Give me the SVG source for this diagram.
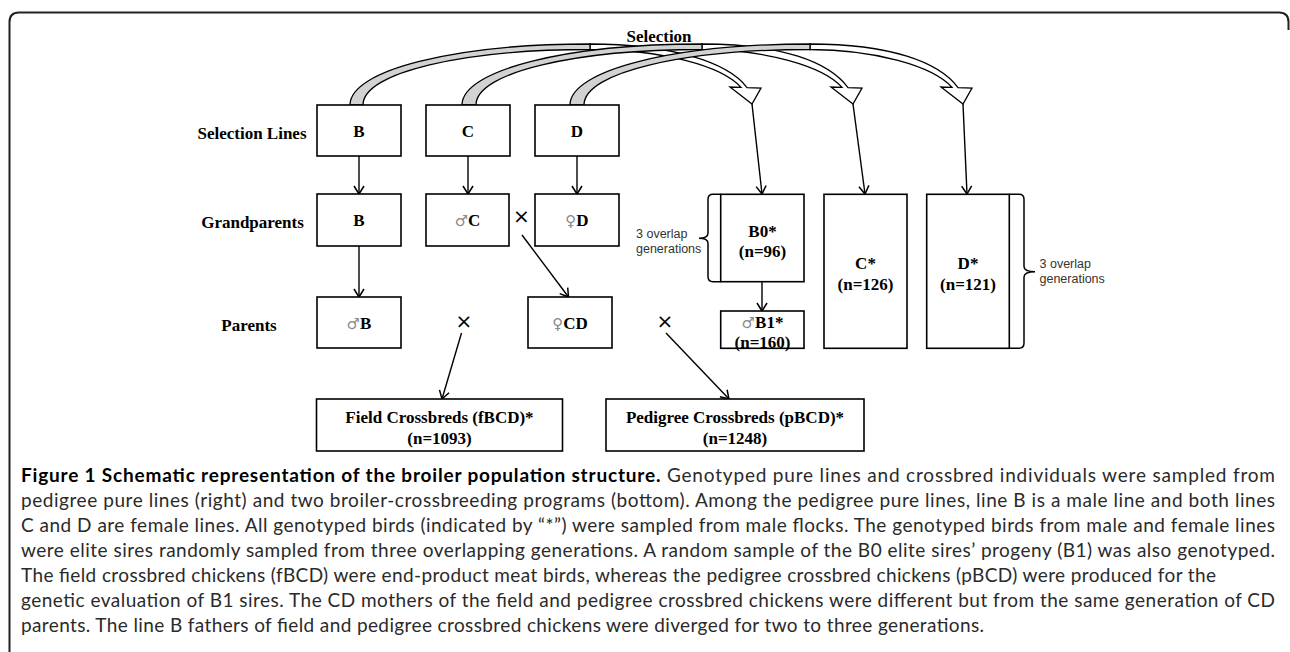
<svg xmlns="http://www.w3.org/2000/svg" width="1290" height="652" viewBox="0 0 1290 652">
<defs>
<marker id="ah" markerUnits="userSpaceOnUse" markerWidth="16" markerHeight="16" viewBox="-12 -8 16 16" refX="0" refY="0" orient="auto"><path d="M-8,-5 L0,0 L-8,5" fill="none" stroke="#000" stroke-width="1.5"/></marker>
</defs>
<style>
.box{fill:#fff;stroke:#000;stroke-width:1.6}
.t{font-family:"Liberation Serif","Times New Roman",serif;font-weight:bold;font-size:17px;fill:#000;text-anchor:middle}
.sym{font-family:"DejaVu Sans",sans-serif;font-weight:normal;fill:#8a8a8a;font-size:15px}
.small{font-family:"Liberation Sans",Arial,sans-serif;font-size:12.5px;fill:#333}
.x{font-family:"DejaVu Sans",sans-serif;font-size:20px;text-anchor:middle;fill:#000}
.ln{fill:none;stroke:#000;stroke-width:1.4;marker-end:url(#ah)}
.grey{fill:#d2d2d2;stroke:#000;stroke-width:1.3}
.hol{fill:#fff;stroke:#000;stroke-width:1.3}
.brace{fill:none;stroke:#000;stroke-width:1.5}
.cap{font-family:Lato,"Open Sans",sans-serif;font-size:19px;fill:#2a2a2a}
.capb{font-weight:bold;fill:#000}
</style>
<rect width="1290" height="652" fill="#fff"/>
<path d="M9.5,652 V22 Q9.5,12.5 19,12.5 H1279 Q1288.5,12.5 1288.5,22 V30" fill="none" stroke="#222" stroke-width="2"/>

<g id="connectors">
  <path class="hol" d="M590,44 C670,44 728,62 747,87.6 L761,88 L752,104 L730,87 L741,87.4 C722,66 662,49.5 590,49.5 Z"/>
  <path class="grey" d="M350,105 C350,70 455,44 590,44 L590,49.5 C465,49.5 363,72 363,105 Z"/>
  <path class="hol" d="M702,44 C782,44 829,62 848,87.6 L862,88 L853,104 L831,87 L842,87.4 C823,66 764,49.5 702,49.5 Z"/>
  <path class="grey" d="M462,105 C462,70 567,44 702,44 L702,49.5 C577,49.5 476,72 476,105 Z"/>
  <path class="hol" d="M810,44 C890,44 939,62 958,87.6 L972,88 L963,104 L941,87 L952,87.4 C933,66 874,49.5 810,49.5 Z"/>
  <path class="grey" d="M570,105 C570,70 675,44 810,44 L810,49.5 C685,49.5 584,72 584,105 Z"/>
  <line class="ln" x1="752" y1="104" x2="762" y2="194"/>
  <line class="ln" x1="853" y1="104" x2="865" y2="194"/>
  <line class="ln" x1="963" y1="104" x2="967" y2="194"/>
  <line class="ln" x1="359" y1="156" x2="359" y2="194"/>
  <line class="ln" x1="468" y1="156" x2="468" y2="194"/>
  <line class="ln" x1="577" y1="156" x2="577" y2="194"/>
  <line class="ln" x1="359" y1="246" x2="359" y2="297"/>
  <line class="ln" x1="522" y1="235" x2="568.5" y2="297"/>
  <line class="ln" x1="461.5" y1="333" x2="442" y2="399"/>
  <line class="ln" x1="666" y1="333" x2="729" y2="399"/>
  <line class="ln" x1="762" y1="282" x2="762" y2="311"/>
  <text class="x" x="521.5" y="223">×</text>
  <text class="x" x="464" y="328">×</text>
  <text class="x" x="665" y="328">×</text>
</g>

<g id="labels">
  <text class="t" x="659" y="41.5">Selection</text>
  <text class="t" x="252" y="139">Selection Lines</text>
  <text class="t" x="252.5" y="227.5">Grandparents</text>
  <text class="t" x="249" y="330.5">Parents</text>
</g>

<g id="sel-B"><rect class="box" x="317" y="105" width="84" height="51"/><text class="t" x="359" y="136.5">B</text></g>
<g id="sel-C"><rect class="box" x="426" y="105" width="84" height="51"/><text class="t" x="468" y="136.5">C</text></g>
<g id="sel-D"><rect class="box" x="535" y="105" width="84" height="51"/><text class="t" x="577" y="136.5">D</text></g>

<g id="gp-B"><rect class="box" x="317" y="194" width="84" height="52"/><text class="t" x="359" y="226">B</text></g>
<g id="gp-C"><rect class="box" x="426" y="194" width="83" height="52"/><text class="t" x="467.5" y="226"><tspan class="sym">♂</tspan>C</text></g>
<g id="gp-D"><rect class="box" x="535" y="194" width="84" height="52"/><text class="t" x="577" y="226"><tspan class="sym">♀</tspan>D</text></g>

<g id="p-B"><rect class="box" x="317" y="297" width="84" height="51"/><text class="t" x="359" y="328.5"><tspan class="sym">♂</tspan>B</text></g>
<g id="p-CD"><rect class="box" x="528" y="297" width="84" height="51"/><text class="t" x="570" y="328.5"><tspan class="sym">♀</tspan>CD</text></g>

<g id="B0">
  <path class="brace" d="M720.7,194.3 H713 Q708,194.3 708,199.5 V233 Q708,238.3 699,238.3 Q708,238.3 708,243.5 V276.5 Q708,281.7 713,281.7 H720.7"/>
  <rect class="box" x="720.7" y="194.3" width="83.3" height="87.4"/>
  <text class="t" x="762.5" y="236.5">B0*</text>
  <text class="t" x="762.5" y="257">(n=96)</text>
  <text class="small" x="636" y="237.5">3 overlap</text>
  <text class="small" x="636" y="252.5">generations</text>
</g>
<g id="B1"><rect class="box" x="720.7" y="311" width="83.3" height="37.3"/><text class="t" x="762.5" y="327.5"><tspan class="sym">♂</tspan>B1*</text><text class="t" x="762.5" y="347.5">(n=160)</text></g>
<g id="Cstar"><rect class="box" x="824" y="194.3" width="83" height="154"/><text class="t" x="865.5" y="269">C*</text><text class="t" x="865.5" y="289.5">(n=126)</text></g>
<g id="Dstar">
  <path class="brace" d="M1009.3,194.3 H1019 Q1024,194.3 1024,199.5 V266.5 Q1024,271.7 1035,271.7 Q1024,271.7 1024,277 V343 Q1024,348.2 1019,348.2 H1009.3"/>
  <rect class="box" x="926.7" y="194.3" width="82.6" height="154"/>
  <text class="t" x="968" y="269">D*</text><text class="t" x="968" y="289.5">(n=121)</text>
  <text class="small" x="1039.5" y="267.5">3 overlap</text>
  <text class="small" x="1039.5" y="282.5">generations</text>
</g>

<g id="field"><rect class="box" x="316.5" y="399" width="246" height="52"/><text class="t" x="439.5" y="422.5">Field Crossbreds (fBCD)*</text><text class="t" x="439.5" y="444">(n=1093)</text></g>
<g id="pedigree"><rect class="box" x="606" y="399" width="258" height="52"/><text class="t" x="735" y="422.5">Pedigree Crossbreds (pBCD)*</text><text class="t" x="735" y="444">(n=1248)</text></g>

<g id="caption">
  <text class="cap" x="21" y="482" textLength="1254" lengthAdjust="spacing"><tspan class="capb">Figure 1 Schematic representation of the broiler population structure.</tspan> Genotyped pure lines and crossbred individuals were sampled from</text>
  <text class="cap" x="21" y="507" textLength="1254" lengthAdjust="spacing">pedigree pure lines (right) and two broiler-crossbreeding programs (bottom). Among the pedigree pure lines, line B is a male line and both lines</text>
  <text class="cap" x="21" y="532" textLength="1254" lengthAdjust="spacing">C and D are female lines. All genotyped birds (indicated by “*”) were sampled from male flocks. The genotyped birds from male and female lines</text>
  <text class="cap" x="21" y="557" textLength="1254" lengthAdjust="spacing">were elite sires randomly sampled from three overlapping generations. A random sample of the B0 elite sires’ progeny (B1) was also genotyped.</text>
  <text class="cap" x="21" y="582" textLength="1195" lengthAdjust="spacing">The field crossbred chickens (fBCD) were end-product meat birds, whereas the pedigree crossbred chickens (pBCD) were produced for the</text>
  <text class="cap" x="21" y="607" textLength="1254" lengthAdjust="spacing">genetic evaluation of B1 sires. The CD mothers of the field and pedigree crossbred chickens were different but from the same generation of CD</text>
  <text class="cap" x="21" y="632" textLength="963" lengthAdjust="spacing">parents. The line B fathers of field and pedigree crossbred chickens were diverged for two to three generations.</text>
</g>
</svg>
